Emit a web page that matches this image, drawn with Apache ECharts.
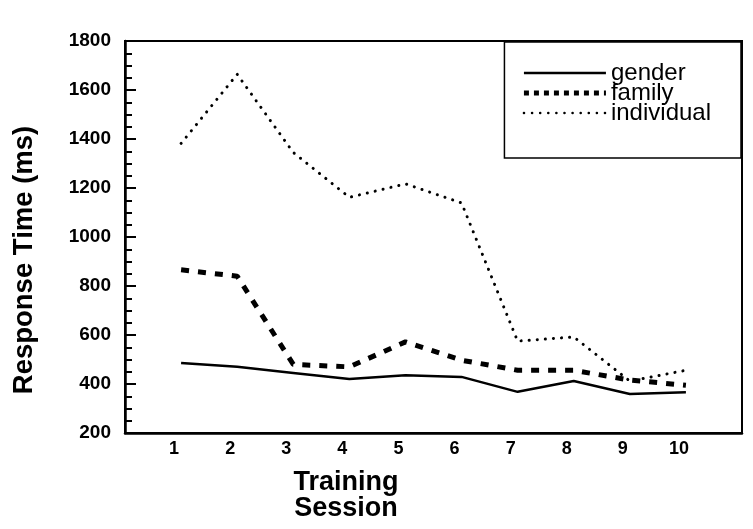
<!DOCTYPE html>
<html>
<head>
    <meta charset="utf-8" />
    <title>Response Time</title>
    <script src="https://cdn.jsdelivr.net/npm/echarts@6/dist/echarts.min.js"></script>
    <style>
        html, body { margin: 0; padding: 0; background: #fff; }
        #content { width: 753px; height: 529px; }
    </style>
</head>
<body>
    <div id="content"></div>
    <script type="text/javascript">
        var sessions = [1, 2, 3, 4, 5, 6, 7, 8, 9, 10];
        var gender = [486, 470, 445, 420, 436, 429, 368, 412, 359, 366];
        var family = [866, 840, 480, 470, 572, 497, 456, 456, 416, 395];
        var individual = [1382, 1664, 1345, 1162, 1217, 1139, 575, 592, 412, 456];
        var yTicks = [200, 400, 600, 800, 1000, 1200, 1400, 1600, 1800];

        var font = "'Liberation Sans', Arial, sans-serif";

        function pairs(vals) {
            var out = [];
            for (var i = 0; i < sessions.length; i++) {
                out.push([sessions[i], vals[i]]);
            }
            return out;
        }

        var myChart = echarts.init(document.getElementById("content"));
        myChart.setOption({
            animation: false,
            backgroundColor: '#fff',
            title: {
                text: 'Training\nSession',
                left: 341,
                top: 465,
                textAlign: 'center',
                textStyle: { fontFamily: font, fontSize: 27, fontWeight: 'bold', color: '#000', lineHeight: 26 }
            },
            graphic: [{
                type: 'text',
                x: 24,
                y: 260,
                rotation: Math.PI / 2,
                style: {
                    text: 'Response Time (ms)',
                    font: 'bold 27.5px ' + font,
                    fill: '#000',
                    align: 'center',
                    verticalAlign: 'middle'
                }
            }],
            legend: {
                orient: 'vertical',
                right: 12,
                top: 42,
                backgroundColor: '#fff',
                borderColor: '#000',
                borderWidth: 1.5,
                borderRadius: 0,
                padding: [19, 30, 33, 17],
                itemWidth: 82,
                itemHeight: 10,
                itemGap: -4,
                itemStyle: { opacity: 0 },
                textStyle: { fontFamily: font, fontSize: 24, lineHeight: 20, color: '#000' },
                data: [
                    { name: 'gender', lineStyle: { width: 2.5 } },
                    { name: 'family', lineStyle: { width: 5, type: 'dotted' } },
                    { name: 'individual', lineStyle: { width: 2.5 } }
                ]
            },
            grid: {
                left: 125,
                right: 11,
                top: 41,
                bottom: 96,
                show: true,
                borderColor: '#000',
                borderWidth: 2,
                containLabel: false
            },
            xAxis: {
                type: 'value',
                min: 0,
                max: 11,
                interval: 1,
                axisLine: { lineStyle: { color: '#000', width: 2.5 } },
                axisTick: { show: false },
                splitLine: { show: false },
                axisLabel: {
                    color: '#000',
                    fontFamily: font,
                    fontSize: 18,
                    fontWeight: 'bold',
                    margin: 7,
                    padding: [0, 14, 0, 0],
                    formatter: function (v) {
                        return sessions.indexOf(v) >= 0 ? String(v) : '';
                    }
                }
            },
            yAxis: {
                type: 'value',
                min: yTicks[0],
                max: yTicks[yTicks.length - 1],
                interval: 200,
                axisLine: { show: true, lineStyle: { color: '#000', width: 2.5 } },
                axisTick: { inside: true, length: 11, lineStyle: { color: '#000', width: 2 } },
                minorTick: { show: true, splitNumber: 4, length: 7, lineStyle: { color: '#000', width: 2 } },
                splitLine: { show: false },
                minorSplitLine: { show: false },
                axisLabel: {
                    color: '#000',
                    fontFamily: font,
                    fontSize: 19,
                    fontWeight: 'bold',
                    margin: 14,
                    formatter: function (v) { return String(v); }
                }
            },
            series: [{
                name: 'gender',
                type: 'line',
                data: pairs(gender),
                symbol: 'none',
                lineStyle: { color: '#000', width: 2.5 },
                itemStyle: { color: '#000' }
            }, {
                name: 'family',
                type: 'line',
                data: pairs(family),
                symbol: 'none',
                lineStyle: { color: '#000', width: 5, type: [8, 9] },
                itemStyle: { color: '#000' }
            }, {
                name: 'individual',
                type: 'line',
                data: pairs(individual),
                symbol: 'none',
                lineStyle: { color: '#000', width: 3, type: [0.1, 8], cap: 'round' },
                itemStyle: { color: '#000' }
            }]
        });
    </script>
</body>
</html>
